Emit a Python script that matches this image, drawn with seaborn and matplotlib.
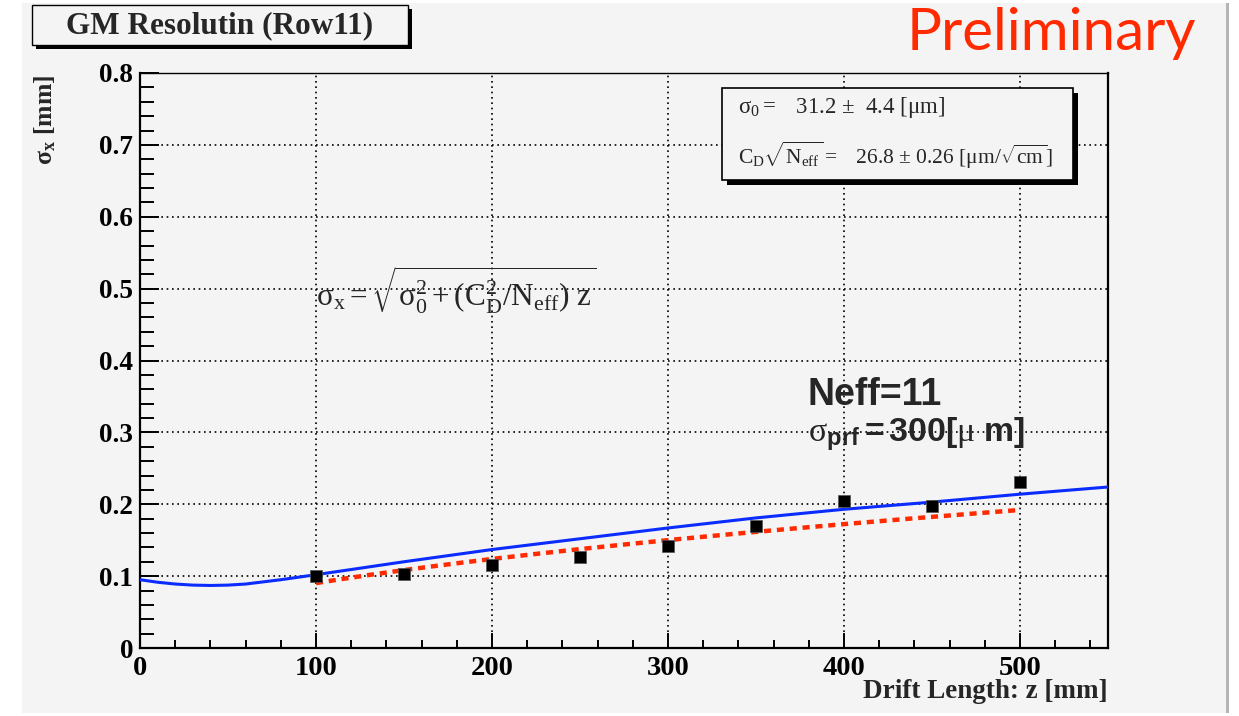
import numpy as np
import pandas as pd
import matplotlib
matplotlib.use("Agg")
import matplotlib.pyplot as plt
from matplotlib.patches import Rectangle
from matplotlib.ticker import MultipleLocator
import seaborn as sns

# Measured spatial resolution vs drift length
drift_z = [100, 150, 200, 250, 300, 350, 400, 450, 500]
sigma_x = [0.100, 0.103, 0.115, 0.126, 0.142, 0.170, 0.204, 0.197, 0.231]

# Expected resolution curve (Neff = 11, sigma_prf = 300 um)
model_z = [0, 10, 20, 30, 40, 50, 60, 80, 100, 125, 150, 200, 250, 300, 350, 400, 450, 500, 550]
model_sigma = [0.095, 0.0915, 0.089, 0.0875, 0.087, 0.0875, 0.089, 0.095, 0.102, 0.111, 0.120,
               0.137, 0.152, 0.167, 0.181, 0.193, 0.203, 0.214, 0.224]

# Fit parameters
sigma0_um = 31.2
sigma0_err = 4.4
cd_um = 26.8
cd_err = 0.26
fit_range = (100, 500)

W, H = 1239, 716
sns.set_style("ticks")
plt.rcParams["font.family"] = ["Liberation Serif", "DejaVu Serif"]
plt.rcParams["mathtext.fontset"] = "custom"
plt.rcParams["mathtext.rm"] = "Liberation Serif"
plt.rcParams["mathtext.it"] = "Liberation Serif:italic"
plt.rcParams["mathtext.bf"] = "Liberation Serif:bold"
plt.rcParams["mathtext.sf"] = "Liberation Sans:bold"
plt.rcParams["mathtext.default"] = "rm"

fig = plt.figure(figsize=(W / 100, H / 100), dpi=100, facecolor="white")


def fx(x):
    return x / W


def fy(y):
    return 1 - y / H


# canvas pad
fig.patches.append(Rectangle((fx(22), fy(713)), fx(1206), 710 / H, transform=fig.transFigure,
                             facecolor="#f4f4f4", edgecolor="none", zorder=-10))
fig.patches.append(Rectangle((fx(1226), fy(713)), fx(3), 710 / H, transform=fig.transFigure,
                             facecolor="#b4b4b4", edgecolor="none", zorder=-9))

ax = fig.add_axes([fx(140), fy(648), fx(1108 - 140), (648 - 73) / H])
ax.set_facecolor("#f4f4f4")

df_pts = pd.DataFrame({"z": drift_z, "sigma": sigma_x})
df_model = pd.DataFrame({"z": model_z, "sigma": model_sigma})
fit_z = np.linspace(fit_range[0], fit_range[1], 200)
fit_sigma = np.sqrt((sigma0_um / 1000) ** 2 + (cd_um / 1000) ** 2 * fit_z / 10.0)
df_fit = pd.DataFrame({"z": fit_z, "sigma": fit_sigma})

sns.lineplot(data=df_model, x="z", y="sigma", ax=ax, color="#0a2cff", linewidth=2.2, zorder=3)
sns.lineplot(data=df_fit, x="z", y="sigma", ax=ax, color="#ff2a00", linewidth=3.2,
             linestyle=(0, (1.6, 1.3)), zorder=4)
sns.scatterplot(data=df_pts, x="z", y="sigma", ax=ax, marker="s", s=75, color="black",
                edgecolor="#555555", linewidth=0.5, zorder=5)

ax.set_xlim(0, 550)
ax.set_ylim(0, 0.8)
ax.xaxis.set_major_locator(MultipleLocator(100))
ax.xaxis.set_minor_locator(MultipleLocator(20))
ax.yaxis.set_major_locator(MultipleLocator(0.1))
ax.yaxis.set_minor_locator(MultipleLocator(0.02))
ax.set_yticks(np.arange(0, 0.81, 0.1))
ax.set_yticklabels(["0"] + [f"{v:.1f}" for v in np.arange(0.1, 0.81, 0.1)])

ax.grid(True, which="major", color="black", linestyle=(0, (1, 2.2)), linewidth=1.2)
ax.set_axisbelow(True)

ax.tick_params(axis="both", which="both", direction="in", top=False, right=False,
               colors="black")
ax.tick_params(axis="y", which="major", length=14, width=1.4, pad=5, labelsize=19.5)
ax.tick_params(axis="y", which="minor", length=10, width=1.4)
ax.tick_params(axis="x", which="major", length=11, width=1.4, pad=6, labelsize=20.5)
ax.tick_params(axis="x", which="minor", length=6, width=1.4)
for lab in ax.get_xticklabels() + ax.get_yticklabels():
    lab.set_fontweight("bold")

for side in ["left", "bottom", "right"]:
    ax.spines[side].set_linewidth(1.6)
    ax.spines[side].set_color("black")
ax.spines["top"].set_linewidth(1.0)
ax.spines["top"].set_color("black")

ax.set_xlabel("")
ax.set_ylabel("")
fig.text(fx(1108), fy(692), "Drift Length: z [mm]", ha="right", va="center",
         fontsize=19.5, fontweight="bold")
fig.text(fx(45), fy(120), r"$\mathbf{\sigma_{x}\ [mm]}$", rotation=90, ha="center",
         va="center", fontsize=18.5)

# title box with shadow
fig.patches.append(Rectangle((fx(36), fy(49)), fx(376), 40 / H, transform=fig.transFigure,
                             facecolor="black", edgecolor="none", zorder=1))
fig.patches.append(Rectangle((fx(32), fy(45)), fx(376), 40 / H, transform=fig.transFigure,
                             facecolor="#f4f4f4", edgecolor="black", linewidth=1, zorder=2))
fig.text(fx(220), fy(26), "GM Resolutin (Row11)", ha="center", va="center",
         fontsize=22.5, fontweight="bold", zorder=3)

fig.text(fx(1196), fy(33), "Preliminary", ha="right", va="center", color="#ff2a00",
         fontsize=42, family=["Lato", "DejaVu Sans"])

# fit-parameter box with shadow
fig.patches.append(Rectangle((fx(727), fy(185)), fx(351), 92 / H, transform=fig.transFigure,
                             facecolor="black", edgecolor="none", zorder=6))
fig.patches.append(Rectangle((fx(722), fy(180)), fx(351), 92 / H, transform=fig.transFigure,
                             facecolor="#f4f4f4", edgecolor="black", linewidth=1.2, zorder=7))
fig.text(fx(738), fy(107),
         r"$\sigma_0 = $" + f"   {sigma0_um:.1f} $\\pm$  {sigma0_err:.1f} [$\\mu$m]",
         ha="left", va="center", fontsize=16.5, zorder=8)
fig.text(fx(738), fy(155),
         r"$C_{D}\sqrt{N_{eff}} = $" + f"   {cd_um:.1f} $\\pm$ {cd_err:.2f} [$\\mu$m$/\\sqrt{{cm}}$]",
         ha="left", va="center", fontsize=15.5, zorder=8)

# resolution formula
fig.text(fx(316), fy(290),
         r"$\sigma_{x} = \sqrt{\sigma_0^2 + (C_D^2/N_{eff})\ z}$",
         ha="left", va="center", fontsize=22.5, zorder=8)

# simulation parameters
fig.text(fx(808), fy(395), "Neff=11", ha="left", va="center", fontsize=27,
         fontweight="bold", family=["Liberation Sans", "DejaVu Sans"])
fig.text(fx(808), fy(434), r"$\sigma_{\mathsf{prf}}\mathsf{=300[}\mu\ \mathsf{m]}$",
         ha="left", va="center", fontsize=24.5)

fig.savefig("out.png", dpi=100, facecolor=fig.get_facecolor())
